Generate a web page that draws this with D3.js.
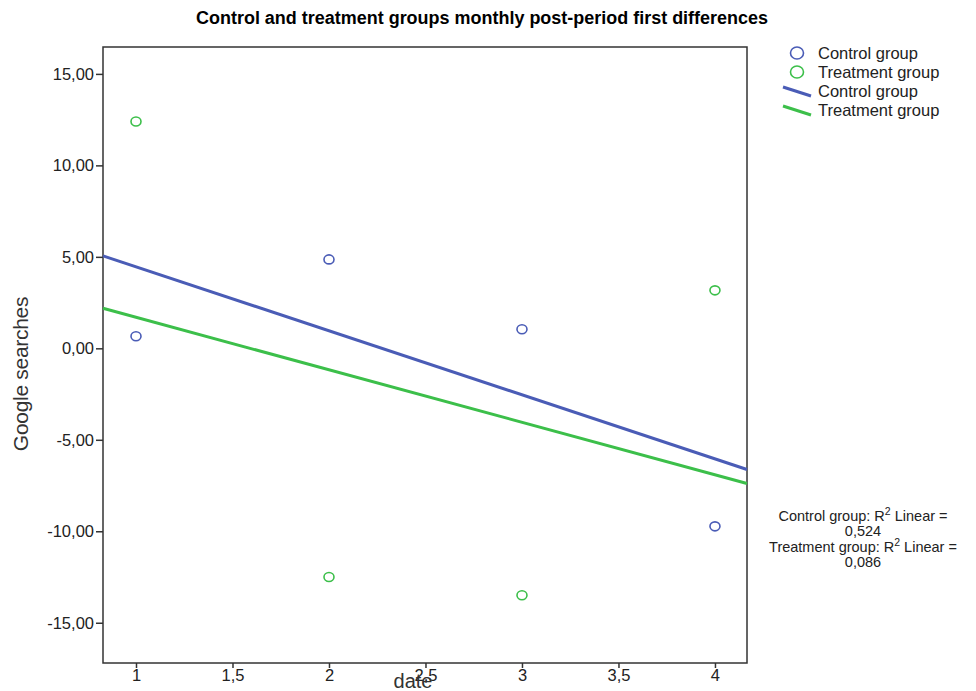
<!DOCTYPE html>
<html lang="en">
<head>
    <meta charset="UTF-8">
    <title>Control and treatment groups monthly post-period first differences</title>
    <style>
        body {
            margin: 0;
            padding: 0;
            background-color: #ffffff;
            font-family: Arial, "Liberation Sans", sans-serif;
        }
        svg { display: block; }
    </style>
</head>
<body>
    <svg width="976" height="691"></svg>

    <script src="https://d3js.org/d3.v7.min.js"></script>
    <script>
        // Data
        let dates = [1, 2, 3, 4];
        let controlValues = [0.66, 4.86, 1.04, -9.73];
        let treatmentValues = [12.4, -12.5, -13.5, 3.17];
        let xTicks = [1, 1.5, 2, 2.5, 3, 3.5, 4];
        let yTicks = [-15, -10, -5, 0, 5, 10, 15];
        let r2Labels = ["Control group: R", "0,524", "Treatment group: R", "0,086"];

        let width = 976, height = 691;
        let plotLeft = 103, plotRight = 747, plotTop = 47, plotBottom = 663;
        let blue = "#4a5cb6", green = "#3cbf4a";

        let svg = d3.select("svg");

        let x = d3.scaleLinear().domain([0.829, 4.166]).range([plotLeft, plotRight]);
        let y = d3.scaleLinear().domain([-17.2, 16.47]).range([plotBottom, plotTop]);

        // comma decimals and plain hyphens, like the original
        let fmtY = d => d3.format(".2f")(d).replace(".", ",").replace("\u2212", "-");
        let fmtX = d => String(d).replace(".", ",");

        // simple least squares fit
        function fit(xs, ys) {
            let mx = d3.mean(xs), my = d3.mean(ys);
            let num = d3.sum(xs, (v, i) => (v - mx) * (ys[i] - my));
            let den = d3.sum(xs, v => (v - mx) * (v - mx));
            let b = num / den;
            return { a: my - b * mx, b: b };
        }

        // Title
        svg.append("text")
            .attr("x", 482)
            .attr("y", 24)
            .attr("text-anchor", "middle")
            .attr("textLength", 572)
            .attr("lengthAdjust", "spacingAndGlyphs")
            .style("font-size", "17.5px")
            .style("font-weight", "bold")
            .text("Control and treatment groups monthly post-period first differences");

        // Axes
        let yAxis = svg.append("g")
            .attr("transform", `translate(${plotLeft},0)`)
            .call(d3.axisLeft(y).tickValues(yTicks).tickFormat(fmtY).tickSize(7).tickPadding(2));
        let xAxis = svg.append("g")
            .attr("transform", `translate(0,${plotBottom})`)
            .call(d3.axisBottom(x).tickValues(xTicks).tickFormat(fmtX).tickSize(5).tickPadding(1));
        [xAxis, yAxis].forEach(g => {
            g.select(".domain").remove();
            g.selectAll("line").attr("stroke", "#333").attr("stroke-width", 1.5);
            g.selectAll("text").style("font-size", "16.5px").attr("fill", "#222")
                .style("font-family", "Arial, 'Liberation Sans', sans-serif");
        });

        // Frame
        svg.append("rect")
            .attr("x", plotLeft).attr("y", plotTop)
            .attr("width", plotRight - plotLeft).attr("height", plotBottom - plotTop)
            .attr("fill", "none")
            .attr("stroke", "#333")
            .attr("stroke-width", 1.5);

        // Axis titles
        svg.append("text")
            .attr("transform", "translate(28,374) rotate(-90)")
            .attr("text-anchor", "middle")
            .style("font-size", "21px")
            .style("letter-spacing", "-0.3px")
            .attr("fill", "#333")
            .text("Google searches");
        svg.append("text")
            .attr("x", 413)
            .attr("y", 688)
            .attr("text-anchor", "middle")
            .style("font-size", "20px")
            .attr("fill", "#333")
            .text("date");

        let plot = svg.append("g");
        let series = [
            { name: "Control group", values: controlValues, color: blue },
            { name: "Treatment group", values: treatmentValues, color: green }
        ];

        // Fit lines
        series.forEach(s => {
            let f = fit(dates, s.values);
            let x0 = x.domain()[0], x1 = x.domain()[1];
            plot.append("line")
                .attr("x1", x(x0)).attr("y1", y(f.a + f.b * x0))
                .attr("x2", x(x1)).attr("y2", y(f.a + f.b * x1))
                .attr("stroke", s.color)
                .attr("stroke-width", 3);
        });

        // Points
        series.forEach(s => {
            plot.selectAll(null)
                .data(dates)
                .enter()
                .append("ellipse")
                .attr("cx", d => x(d))
                .attr("cy", (d, i) => y(s.values[i]))
                .attr("rx", 5)
                .attr("ry", 4.5)
                .attr("fill", "none")
                .attr("stroke", s.color)
                .attr("stroke-width", 1.6);
        });

        // Legend
        let legend = svg.append("g").style("font-size", "16.5px").attr("fill", "#222");
        series.forEach((s, i) => {
            legend.append("ellipse")
                .attr("cx", 797).attr("cy", 53 + i * 19)
                .attr("rx", 6.5).attr("ry", 6)
                .attr("fill", "none").attr("stroke", s.color).attr("stroke-width", 1.6);
            legend.append("text")
                .attr("x", 818).attr("y", 59 + i * 19)
                .text(s.name);
        });
        series.forEach((s, i) => {
            legend.append("line")
                .attr("x1", 783).attr("y1", 87 + i * 19)
                .attr("x2", 811).attr("y2", 96 + i * 19)
                .attr("stroke", s.color).attr("stroke-width", 3);
            legend.append("text")
                .attr("x", 818).attr("y", 97 + i * 19)
                .text(s.name);
        });

        // R squared notes
        let note = svg.append("g")
            .attr("text-anchor", "middle")
            .style("font-size", "14.5px")
            .attr("fill", "#222");
        [0, 2].forEach((k, i) => {
            let t = note.append("text").attr("x", 863).attr("y", 521 + i * 31);
            t.append("tspan").text(r2Labels[k]);
            t.append("tspan").attr("dy", -6).style("font-size", "10.5px").text("2");
            t.append("tspan").attr("dy", 6).text(" Linear =");
            note.append("text").attr("x", 863).attr("y", 536 + i * 31).text(r2Labels[k + 1]);
        });
    </script>
</body>
</html>
